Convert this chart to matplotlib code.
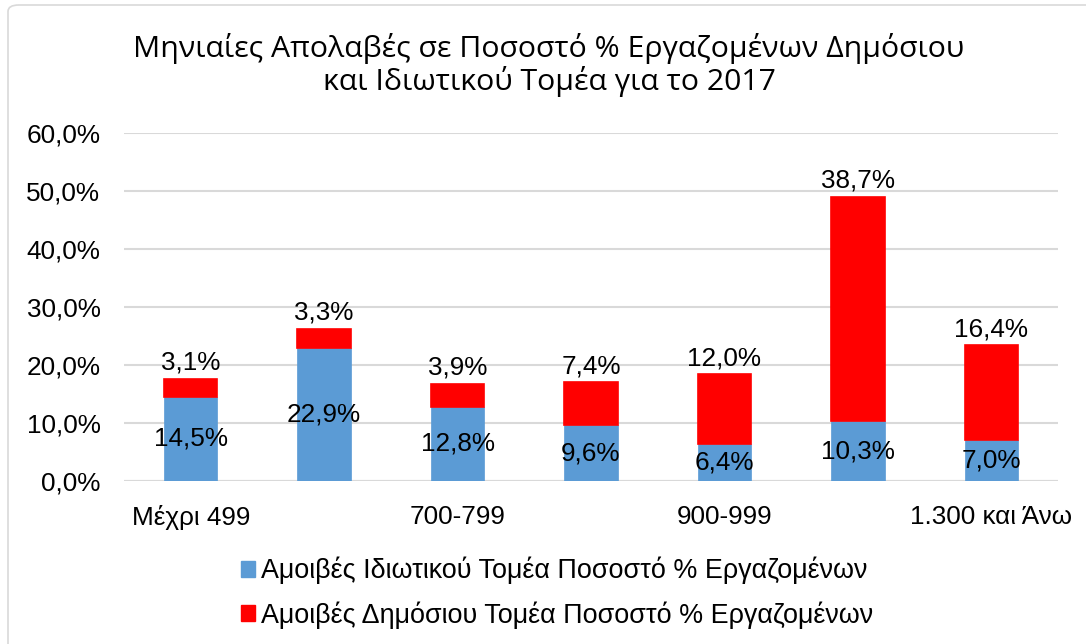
import matplotlib
matplotlib.use("Agg")
import matplotlib.pyplot as plt
from matplotlib.patches import Patch, FancyBboxPatch
from matplotlib.ticker import FuncFormatter

categories = ["Μέχρι 499", "500-699", "700-799", "800-899", "900-999", "1.000-1.299", "1.300 και Άνω"]
private_vals = [14.5, 22.9, 12.8, 9.6, 6.4, 10.3, 7.0]
public_vals = [3.1, 3.3, 3.9, 7.4, 12.0, 38.7, 16.4]
series_names = ["Αμοιβές Ιδιωτικού Τομέα Ποσοστό % Εργαζομένων",
                "Αμοιβές Δημόσιου Τομέα Ποσοστό % Εργαζομένων"]
title = "Μηνιαίες Απολαβές σε Ποσοστό % Εργαζομένων Δημόσιου\nκαι Ιδιωτικού Τομέα για το 2017"
yticks = [0, 10, 20, 30, 40, 50, 60]

BLUE = "#5B9BD5"
RED = "#FF0000"
FONT = ["Liberation Sans", "DejaVu Sans"]
plt.rcParams['font.family'] = FONT
FS = 18.8

fig = plt.figure(figsize=(10.86, 6.44), dpi=100)
# outer chart border
fig.patches.append(FancyBboxPatch((8/1086, -0.05), 1.2, 1 - 5/644 + 0.05,
                                  boxstyle="round,pad=0,rounding_size=0.01",
                                  transform=fig.transFigure, facecolor="white",
                                  edgecolor="#D9D9D9", linewidth=1.2, zorder=-1))

ax = fig.add_axes([124/1086, 1 - 481/644, (1058 - 124)/1086, (481 - 133)/644])
x = list(range(len(categories)))
w = 0.40
b1 = ax.bar(x, private_vals, width=w, color=BLUE, edgecolor=BLUE, linewidth=0.5, zorder=3,
            label=series_names[0])
b2 = ax.bar(x, public_vals, width=w, bottom=private_vals, color=RED, edgecolor=RED,
            linewidth=1.2, zorder=3, label=series_names[1])

fmt = lambda v: f"{v:.1f}%".replace(".", ",")
ax.bar_label(b1, labels=[fmt(v) for v in private_vals], label_type="center",
             fontsize=FS, color="black", zorder=5)
ax.bar_label(b2, labels=[fmt(v) for v in public_vals], label_type="edge", padding=3,
             fontsize=FS, color="black", zorder=5)

ax.set_ylim(0, 60)
ax.set_xlim(-0.5, len(categories) - 0.5)
ax.set_yticks(yticks)
ax.yaxis.set_major_formatter(FuncFormatter(lambda v, p: f"{v:.1f}%".replace(".", ",")))
ax.set_xticks(x[::2])
ax.set_xticklabels(categories[::2])
ax.tick_params(axis="y", length=0, pad=17, labelsize=FS)
ax.tick_params(axis="x", length=0, pad=17, labelsize=FS)
ax.grid(axis="y", color="#D9D9D9", linewidth=1.5, zorder=0)
ax.set_axisbelow(True)
for s in ax.spines.values():
    s.set_visible(False)
ax.axhline(0, color="#D9D9D9", linewidth=1.5, zorder=1)

fig.text(549/1086, 1 - 65/644, title, ha="center", va="center", fontsize=21.8,
         family=["Open Sans", "DejaVu Sans"], linespacing=1.12, multialignment="center")

handles = [Patch(facecolor=BLUE, edgecolor=BLUE), Patch(facecolor=RED, edgecolor=RED)]
fig.legend(handles, series_names, loc="upper left", bbox_to_anchor=(241/1086, 1 - 557/644),
           frameon=False, fontsize=19.4, handlelength=0.52, handleheight=0.5,
           handletextpad=0.22, labelspacing=0.62, borderaxespad=0, borderpad=0)

fig.savefig("out.png", dpi=100, facecolor="white")
